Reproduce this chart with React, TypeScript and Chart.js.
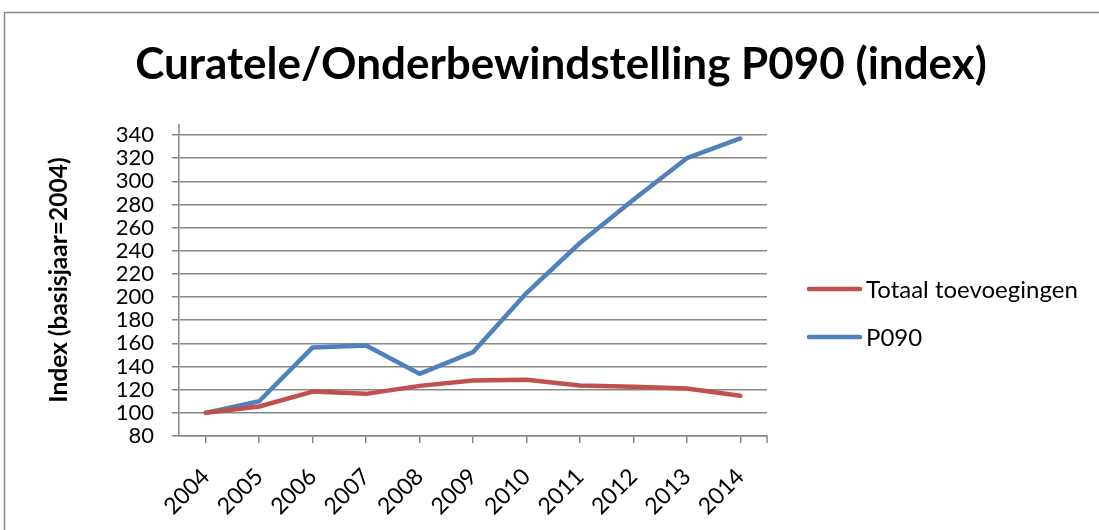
import React, { useEffect, useRef } from "react";
import { Chart, registerables } from "chart.js";

Chart.register(...registerables);

const years = ["2004", "2005", "2006", "2007", "2008", "2009", "2010", "2011", "2012", "2013", "2014"];
const totaalToevoegingen = [100, 105.5, 118.4, 116.4, 123.3, 128, 128.5, 123.6, 122.5, 121, 114.7];
const p090 = [100, 110, 156.5, 158.2, 133.7, 152.4, 203.5, 246.7, 284, 320, 337];
const yTicks = { min: 80, max: 340, step: 20 };

const titleText = "Curatele/Onderbewindstelling P090 (index)";
const yTitleText = "Index (basisjaar=2004)";
const RED = "#C0504D";
const BLUE = "#4F81BD";
const GRID = "#878787";
const FONT = "Lato, 'Noto Sans', sans-serif";

function fitFont(ctx: CanvasRenderingContext2D, text: string, weight: string, size: number, maxW: number) {
  let s = size;
  ctx.font = `${weight} ${s}px ${FONT}`;
  while (ctx.measureText(text).width > maxW && s > 8) {
    s -= 0.5;
    ctx.font = `${weight} ${s}px ${FONT}`;
  }
  return s;
}

const decorPlugin = {
  id: "decor",
  beforeDraw(chart: any) {
    const ctx = chart.ctx as CanvasRenderingContext2D;
    ctx.save();
    ctx.fillStyle = "#ffffff";
    ctx.fillRect(0, 0, chart.width, chart.height);
    ctx.strokeStyle = "#8a8a8a";
    ctx.lineWidth = 1.5;
    ctx.strokeRect(4.5, 12.5, 1300, 700);
    ctx.restore();
  },
  afterDraw(chart: any) {
    const ctx = chart.ctx as CanvasRenderingContext2D;
    const area = chart.chartArea;
    ctx.save();
    // axis end decorations (Excel-style)
    ctx.strokeStyle = GRID;
    ctx.lineWidth = 1.5;
    ctx.beginPath();
    ctx.moveTo(area.left, area.top - 11);
    ctx.lineTo(area.left, area.top);
    ctx.moveTo(area.right, area.bottom);
    ctx.lineTo(area.right, area.bottom + 7);
    ctx.stroke();
    // title
    fitFont(ctx, titleText, "bold", 44, 858);
    ctx.fillStyle = "#000";
    ctx.textAlign = "center";
    ctx.textBaseline = "alphabetic";
    ctx.fillText(titleText, 561, 79);
    // y title
    ctx.save();
    ctx.translate(59, 280);
    ctx.rotate(-Math.PI / 2);
    fitFont(ctx, yTitleText, "bold", 25, 246);
    ctx.textAlign = "center";
    ctx.textBaseline = "middle";
    ctx.fillText(yTitleText, 0, 0);
    ctx.restore();
    // legend
    const items = chart.data.datasets.map((d: any) => ({ label: d.label, color: d.borderColor }));
    const ys = [289, 337];
    items.forEach((it: any, i: number) => {
      ctx.strokeStyle = it.color;
      ctx.lineWidth = 4.5;
      ctx.lineCap = "round";
      ctx.beginPath();
      ctx.moveTo(809, ys[i]);
      ctx.lineTo(860, ys[i]);
      ctx.stroke();
      fitFont(ctx, it.label, "normal", 24, i === 0 ? 220 : 999);
      ctx.fillStyle = "#000";
      ctx.textAlign = "left";
      ctx.textBaseline = "middle";
      ctx.fillText(it.label, 866, ys[i] + 1);
    });
    ctx.restore();
  },
};

export default function App() {
  const ref = useRef<HTMLCanvasElement | null>(null);
  useEffect(() => {
    if (!ref.current) return;
    const chart = new Chart(ref.current, {
      type: "line",
      data: {
        labels: years,
        datasets: [
          {
            label: "Totaal toevoegingen",
            data: totaalToevoegingen,
            borderColor: RED,
            backgroundColor: RED,
            borderWidth: 4.5,
            pointRadius: 0,
            tension: 0,
            borderCapStyle: "round",
            borderJoinStyle: "round",
          },
          {
            label: "P090",
            data: p090,
            borderColor: BLUE,
            backgroundColor: BLUE,
            borderWidth: 4.5,
            pointRadius: 0,
            tension: 0,
            borderCapStyle: "round",
            borderJoinStyle: "round",
          },
        ],
      },
      options: {
        animation: false,
        responsive: false,
        devicePixelRatio: 1,
        layout: { padding: { top: 135, left: 0, right: 1099 - 767, bottom: 0 } },
        plugins: {
          legend: { display: false },
          title: { display: false },
          tooltip: { enabled: false },
        },
        scales: {
          x: {
            offset: true,
            grid: {
              display: true,
              drawOnChartArea: false,
              drawTicks: true,
              tickLength: 7,
              color: GRID,
              lineWidth: 1.5,
              offset: false,
            },
            border: { display: true, color: GRID, width: 1.5 },
            ticks: {
              minRotation: 45,
              maxRotation: 45,
              autoSkip: false,
              padding: 20,
              color: "#000",
              font: { family: FONT, size: 23 },
            },
            afterFit: (s: any) => {
              s.height = 94;
            },
          },
          y: {
            min: yTicks.min,
            max: yTicks.max,
            grid: {
              color: GRID,
              lineWidth: 1.5,
              tickLength: 7,
              drawTicks: true,
            },
            border: { display: true, color: GRID, width: 1.5 },
            ticks: {
              stepSize: yTicks.step,
              autoSkip: false,
              padding: 18,
              color: "#000",
              font: { family: FONT, size: 22 },
            },
            afterFit: (s: any) => {
              s.width = 179;
            },
          },
        },
      },
      plugins: [decorPlugin],
    });
    return () => chart.destroy();
  }, []);
  return (
    <div style={{ position: "fixed", left: 0, top: 0, width: 1099, height: 530, background: "#fff" }}>
      <canvas ref={ref} width={1099} height={530} style={{ width: 1099, height: 530, display: "block" }} />
    </div>
  );
}
